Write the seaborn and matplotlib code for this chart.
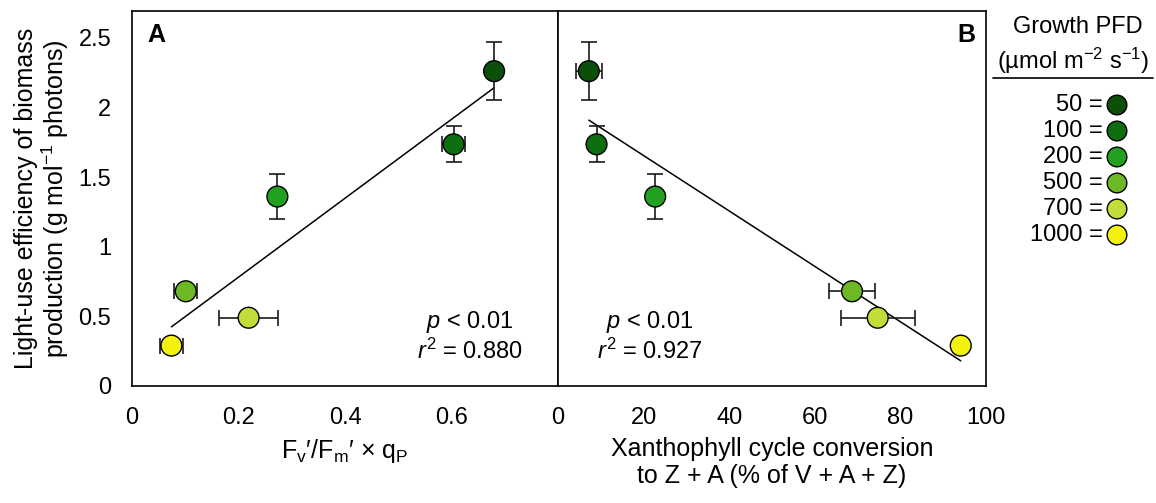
import matplotlib
matplotlib.use("Agg")
import matplotlib.pyplot as plt
import seaborn as sns
import numpy as np
import pandas as pd

# ---- data ----
pfd = ["50", "100", "200", "500", "700", "1000"]
colors = ["#0b4f0b", "#0d6e0f", "#22a020", "#6cb825", "#c4dc3a", "#f3f20e"]
lue = [2.26, 1.735, 1.36, 0.68, 0.49, 0.29]
lue_err = [0.21, 0.13, 0.16, 0.0, 0.0, 0.0]
fvfm_qp = [0.680, 0.604, 0.273, 0.101, 0.219, 0.074]
fvfm_qp_err = [0.0, 0.021, 0.0, 0.022, 0.055, 0.021]
xanth = [7.2, 9.0, 22.7, 68.7, 74.7, 94.1]
xanth_err = [3.1, 0.0, 0.0, 5.3, 8.6, 0.0]

df = pd.DataFrame({"pfd": pfd, "lue": lue, "lue_err": lue_err,
                   "fq": fvfm_qp, "fq_err": fvfm_qp_err,
                   "xan": xanth, "xan_err": xanth_err})

sns.set_theme(style="white")
plt.rcParams['font.family'] = ['Liberation Sans', 'DejaVu Sans']
plt.rcParams['mathtext.fontset'] = 'custom'
plt.rcParams['mathtext.rm'] = 'Liberation Sans'
plt.rcParams['mathtext.it'] = 'Liberation Sans:italic'
for k in ["text.color", "axes.labelcolor", "xtick.color", "ytick.color"]:
    plt.rcParams[k] = "black"
FS_TICK = 17
FS_LAB = 18
FS_LEG = 17

fig = plt.figure(figsize=(11.56, 5.03), dpi=100)
W, H = 1156, 503
axA = fig.add_axes([132 / W, 1 - 386 / H, 426 / W, 375.3 / H])
axB = fig.add_axes([558 / W, 1 - 386 / H, 428 / W, 375.3 / H], sharey=axA)

pal = dict(zip(pfd, colors))
MS = 225

for ax, xcol, xerr in [(axA, "fq", "fq_err"), (axB, "xan", "xan_err")]:
    sns.regplot(data=df, x=xcol, y="lue", ax=ax, scatter=False, ci=None,
                truncate=True, line_kws=dict(color="black", lw=1.1, zorder=1))
    ax.errorbar(df[xcol], df["lue"], yerr=df["lue_err"], xerr=df[xerr],
                fmt="none", ecolor="#1a1a1a", elinewidth=1.2, capsize=6,
                capthick=1.2, zorder=2)
    sns.scatterplot(data=df, x=xcol, y="lue", hue="pfd", palette=pal, ax=ax,
                    s=MS, edgecolor="black", linewidth=1.0, legend=False,
                    zorder=3)
    for sp in ax.spines.values():
        sp.set_color("black")
        sp.set_linewidth(1.2)
    ax.tick_params(direction="in", length=5.5, width=1.1, labelsize=FS_TICK,
                   colors="black", pad=15)
    ax.set_ylabel("")

axA.set_xlim(0, 0.8)
axB.set_xlim(0, 100)
axA.set_ylim(0, 2.694)
axA.set_xticks([0, 0.2, 0.4, 0.6])
axA.set_xticklabels(["0", "0.2", "0.4", "0.6"])
axB.set_xticks([0, 20, 40, 60, 80, 100])
axB.set_xticklabels(["0", "20", "40", "60", "80", "100"])
axA.set_yticks([0, 0.5, 1, 1.5, 2, 2.5])
axA.set_yticklabels(["0", "0.5", "1", "1.5", "2", "2.5"])
axB.tick_params(axis="y", labelleft=False, direction="inout", length=11)

axA.set_ylabel("Light-use efficiency of biomass\nproduction (g mol$^{-1}$ photons)",
               fontsize=FS_LAB, labelpad=5, linespacing=1.1)
axA.set_xlabel("F$_\\mathregular{v}$′/F$_\\mathregular{m}$′ × q$_\\mathregular{P}$",
               fontsize=FS_LAB, labelpad=6)
axB.set_xlabel("Xanthophyll cycle conversion\nto Z + A (% of V + A + Z)",
               fontsize=FS_LAB, labelpad=6, linespacing=1.15)

axA.text(0.036, 0.966, "A", transform=axA.transAxes, fontsize=18,
         fontweight="bold", va="top", ha="left")
axB.text(0.976, 0.966, "B", transform=axB.transAxes, fontsize=18,
         fontweight="bold", va="top", ha="right")

axA.text(0.793, 0.132, "$p$ < 0.01\n$r^2$ = 0.880", transform=axA.transAxes,
         fontsize=17, ha="center", va="center", linespacing=1.15,
         multialignment="center")
axB.text(0.215, 0.132, "$p$ < 0.01\n$r^2$ = 0.927", transform=axB.transAxes,
         fontsize=17, ha="center", va="center", linespacing=1.15,
         multialignment="center")

# ---- legend panel ----
axL = fig.add_axes([988 / W, 0, 168 / W, 1])
axL.set_xlim(988, 1156)
axL.set_ylim(503, 0)
axL.axis("off")
axL.text(1078, 27, "Growth PFD", ha="center", va="center", fontsize=FS_LEG)
axL.text(1073, 61, "(µmol m$^{-2}$ s$^{-1}$)", ha="center", va="center",
         fontsize=FS_LEG)
axL.plot([993, 1153], [78, 78], color="black", lw=1.2)
leg = pd.DataFrame({"pfd": pfd, "row": np.arange(len(pfd))})
leg["y"] = 105 + 26 * leg["row"]
leg["x"] = 1117
sns.scatterplot(data=leg, x="x", y="y", hue="pfd", palette=pal, ax=axL,
                s=200, edgecolor="black", linewidth=1.0, legend=False)
for _, r in leg.iterrows():
    axL.text(1103, r["y"], f"{r['pfd']} =", ha="right", va="center",
             fontsize=FS_LEG)
axL.set_xlabel("")
axL.set_ylabel("")

fig.savefig("out.png", dpi=100)
